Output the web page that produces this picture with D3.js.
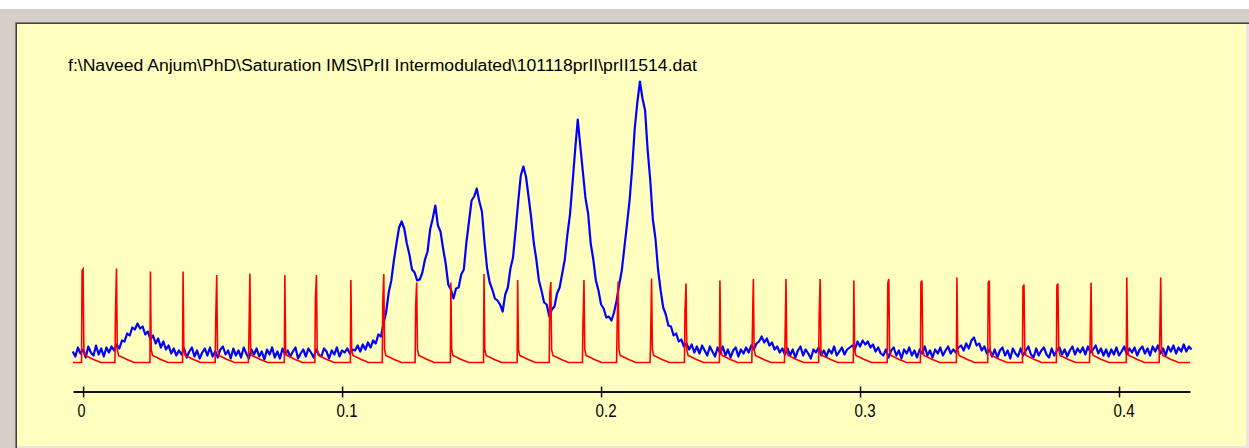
<!DOCTYPE html>
<html>
<head>
<meta charset="utf-8">
<script src="https://cdn.jsdelivr.net/npm/d3@7"></script>
<style>
  body { margin: 0; background: #fff; }
  svg { display: block; }
</style>
</head>
<body>
<svg id="chart" width="1249" height="448"></svg>
<script>
'use strict';

const fileName = 'f:\\Naveed Anjum\\PhD\\Saturation IMS\\PrII Intermodulated\\101118prII\\prII1514.dat';
const xTicks = [0, 0.1, 0.2, 0.3, 0.4];
const xDomain = [-0.0039, 0.4274];

// blue trace, one value every 0.001 starting at -0.004
const blueStart = -0.004;
const blueStep = 0.001;
const blueSignal = [
  11, 6, 15, 9, 13, 5, 16, 10, 7, 17,
  8, 14, 6, 15, 10, 16, 12, 18, 14, 22,
  21, 29, 27, 35, 33, 39, 34, 36, 28, 31,
  23, 27, 19, 24, 15, 21, 13, 17, 9, 14,
  7, 12, 8, 14, 5, 11, 15, 6, 12, 4,
  10, 14, 7, 15, 6, 11, 5, 13, 16, 8,
  12, 4, 14, 7, 12, 5, 15, 9, 4, 13,
  8, 14, 6, 11, 3, 13, 8, 15, 5, 11,
  4, 14, 8, 12, 6, 11, 15, 4, 9, 13,
  6, 14, 10, 5, 13, 8, 6, 14, 11, 4,
  12, 8, 15, 6, 12, 10, 14, 9, 13, 12,
  17, 11, 18, 13, 20, 15, 22, 19, 28, 26,
  39, 50, 70, 82, 102, 119, 135, 141, 134, 119,
  108, 93, 90, 82, 83, 90, 103, 111, 133, 144,
  157, 137, 131, 114, 99, 78, 73, 64, 74, 75,
  88, 93, 120, 141, 162, 166, 174, 161, 151, 120,
  94, 80, 73, 64, 62, 58, 51, 68, 75, 94,
  105, 132, 161, 187, 196, 186, 166, 145, 120, 103,
  82, 72, 60, 58, 46, 53, 56, 69, 75, 89,
  103, 128, 148, 180, 213, 243, 216, 190, 164, 149,
  119, 103, 82, 72, 58, 54, 45, 46, 42, 50,
  62, 78, 92, 115, 138, 162, 194, 234, 260, 281,
  264, 252, 212, 182, 143, 124, 93, 72, 55, 48,
  37, 36, 27, 29, 21, 23, 16, 19, 13, 18,
  10, 16, 9, 17, 12, 7, 16, 11, 6, 15,
  9, 16, 7, 13, 5, 12, 15, 6, 13, 9,
  15, 10, 17, 13, 19, 21, 26, 20, 24, 17,
  20, 13, 16, 10, 14, 8, 14, 7, 13, 5,
  12, 16, 7, 13, 9, 4, 13, 10, 15, 7,
  12, 6, 13, 9, 16, 7, 11, 15, 8, 13,
  15, 17, 13, 21, 16, 22, 18, 21, 15, 18,
  11, 15, 9, 7, 13, 5, 12, 15, 7, 12,
  4, 13, 9, 15, 7, 12, 5, 13, 9, 16,
  7, 12, 5, 13, 9, 15, 7, 12, 16, 9,
  13, 10, 15, 17, 12, 19, 14, 22, 25, 17,
  19, 12, 16, 9, 13, 6, 13, 5, 12, 15,
  7, 12, 4, 14, 9, 6, 14, 7, 12, 16,
  8, 5, 14, 7, 12, 15, 8, 5, 14, 7,
  12, 15, 8, 13, 6, 12, 16, 8, 14, 10,
  15, 8, 16, 10, 13, 17, 9, 14, 7, 13,
  6, 13, 8, 15, 7, 11, 16, 8, 14, 10,
  15, 7, 13, 16, 9, 14, 7, 16, 11, 17,
  9, 14, 7, 16, 11, 17, 9, 15, 11, 18,
  11, 16, 13
];

// red trace: gate pulses
const pulseTimes = [
  0.0000, 0.0129, 0.0260, 0.0386, 0.0516, 0.0644, 0.0779, 0.0901, 0.1034, 0.1161,
  0.1288, 0.1420, 0.1548, 0.1678, 0.1806, 0.1934, 0.2066, 0.2195, 0.2328, 0.2459,
  0.2588, 0.2714, 0.2846, 0.2976, 0.3111, 0.3239, 0.3374, 0.3499, 0.3633, 0.3764,
  0.3892, 0.4030, 0.4161
];
const pulseHeights = [
  93.5, 94, 91, 91, 87.5, 89, 87.5, 87.5, 82.5, 88.5,
  80, 80, 88.5, 82.5, 80.5, 82.5, 81, 84, 79, 82,
  83.5, 83.5, 83.5, 82, 83.5, 82, 85, 82, 78, 79,
  80, 85, 85
];
// level of the sample just before each pulse peak
const pulsePre = [
  92, 51, 0, 0, 40, 21, 0, 64, 0, 59,
  56, 0, 0, 0, 69, 36, 36, 17, 51, 0,
  27, 17, 46, 0, 79, 80, 0, 80, 76, 77,
  17, 0, 24
];
// decay after each pulse: [time after peak, level]
const pulseTail = [
  [0.0003, 13], [0.0008, 7], [0.0025, 5], [0.0040, 3], [0.0055, 1.5], [0.0068, 0]
];

const svg = d3.select('#chart');
const W = 1249, H = 448;

// window chrome
svg.append('rect').attr('width', W).attr('height', H).attr('fill', '#ffffff');
svg.append('rect').attr('x', 0).attr('y', 9).attr('width', W).attr('height', H - 9).attr('fill', '#d4d0c8');
svg.append('rect').attr('x', 15).attr('y', 22).attr('width', 1234).attr('height', 426).attr('fill', '#808080');
svg.append('rect').attr('x', 16).attr('y', 23).attr('width', 1233).attr('height', 425).attr('fill', '#404040');
svg.append('rect').attr('x', 17).attr('y', 24).attr('width', 1232).attr('height', 424).attr('fill', '#e8e6e0');
svg.append('rect').attr('x', 17).attr('y', 24).attr('width', 1229).attr('height', 422).attr('fill', '#ffffc0');

const x = d3.scaleLinear().domain(xDomain).range([73, 1190]);
const y = d3.scaleLinear().domain([0, 280]).range([362.5, 82.5]);

svg.append('text')
  .attr('x', 68)
  .attr('y', 71)
  .attr('font-family', 'Liberation Sans, Arial, sans-serif')
  .attr('font-size', 16)
  .attr('fill', '#000')
  .attr('textLength', 629)
  .attr('lengthAdjust', 'spacingAndGlyphs')
  .text(fileName);

// axis
const axis = d3.axisBottom(x)
  .tickValues(xTicks)
  .tickSizeInner(6)
  .tickSizeOuter(0)
  .tickFormat(d3.format(''));

const gx = svg.append('g')
  .attr('transform', 'translate(0,391.5)')
  .call(axis);

gx.select('.domain').attr('stroke', '#111').attr('stroke-width', 2);
gx.selectAll('.tick line').attr('y1', -5).attr('y2', 6).attr('stroke', '#111').attr('stroke-width', 1.5);
gx.selectAll('.tick text')
  .attr('y', 25)
  .attr('dy', null)
  .attr('x', -6)
  .attr('text-anchor', 'start')
  .attr('font-family', 'Liberation Sans, Arial, sans-serif')
  .attr('font-size', 18)
  .attr('fill', '#000')
  .attr('textLength', d => d === 0 ? 8 : 21)
  .attr('lengthAdjust', 'spacingAndGlyphs');

// blue trace
const bluePoints = blueSignal.map((v, i) => [blueStart + i * blueStep, v]);

const line = d3.line()
  .x(d => x(d[0]))
  .y(d => y(d[1]));

svg.append('path')
  .datum(bluePoints)
  .attr('d', line)
  .attr('fill', 'none')
  .attr('stroke', '#0000ff')
  .attr('stroke-width', 2.2)
  .attr('stroke-linejoin', 'round');

// red trace
const redPoints = [[xDomain[0], 0]];
pulseTimes.forEach((t, i) => {
  if (pulsePre[i] > 0) {
    redPoints.push([t - 0.0006, 0], [t - 0.0004, pulsePre[i]]);
  } else {
    redPoints.push([t - 0.0002, 0]);
  }
  redPoints.push([t, pulseHeights[i]]);
  pulseTail.forEach(([dt, v]) => redPoints.push([t + dt, v]));
});
redPoints.push([xDomain[1], 0]);

svg.append('path')
  .datum(redPoints)
  .attr('d', line)
  .attr('fill', 'none')
  .attr('stroke', '#ff0000')
  .attr('stroke-width', 1.6)
  .attr('stroke-linejoin', 'miter');
</script>
</body>
</html>
